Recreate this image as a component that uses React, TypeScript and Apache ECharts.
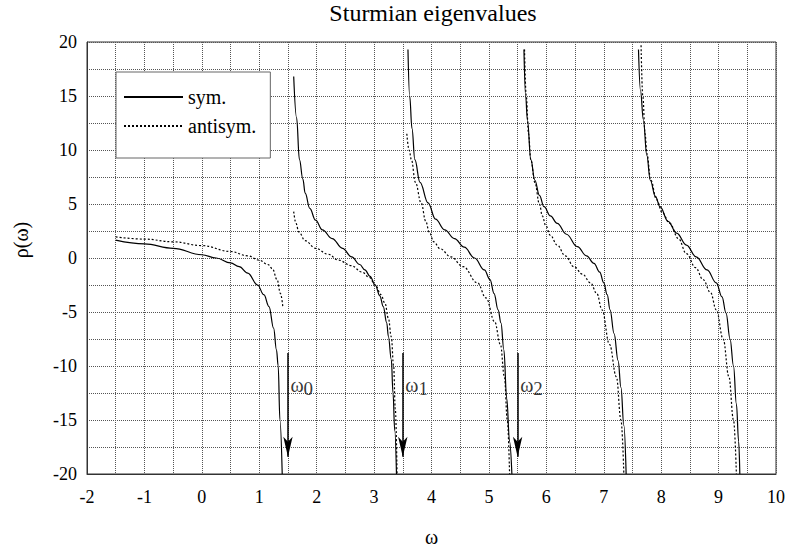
import { useEffect, useRef } from 'react';
import * as echarts from 'echarts';

// Solid curves ("sym.") : [omega, rho] for each branch
const sym0: number[][] = [[-1.5, 1.65], [-1, 1.3], [-0.5, 0.9], [0, 0.3], [0.25, 0.0], [0.5, -0.45], [0.65, -0.8], [0.8, -1.4], [0.97, -2.5], [1.08, -3.4], [1.17, -4.5], [1.25, -6.5], [1.3, -8.5], [1.33, -10], [1.36, -15], [1.4, -20]];
const sym1: number[][] = [[1.6, 16.8], [1.65, 13], [1.7, 9.1], [1.76, 7.3], [1.8, 6.0], [1.88, 4.6], [1.98, 3.5], [2.1, 2.6], [2.27, 1.8], [2.45, 0.9], [2.61, 0.1], [2.75, -0.6], [2.84, -1.1], [2.93, -1.7], [3.02, -2.5], [3.1, -3.5], [3.16, -4.5], [3.22, -6], [3.25, -7.3], [3.3, -9.4], [3.33, -12.5], [3.36, -16], [3.39, -20]];
const sym2: number[][] = [[3.59, 19.3], [3.62, 15], [3.66, 12], [3.71, 9.1], [3.8, 7], [3.94, 5.1], [4.07, 3.6], [4.23, 2.6], [4.4, 1.8], [4.57, 1.0], [4.75, 0], [4.92, -1.1], [5.02, -2.0], [5.09, -3.3], [5.16, -4.8], [5.21, -6], [5.26, -8.5], [5.31, -13], [5.36, -17], [5.4, -20]];
const sym3: number[][] = [[5.61, 19.3], [5.64, 15], [5.67, 12.8], [5.73, 9.1], [5.8, 7.2], [5.88, 5.8], [5.96, 4.75], [6.07, 3.9], [6.19, 3.2], [6.35, 2.2], [6.54, 1.05], [6.7, 0.2], [6.83, -0.5], [6.93, -1.3], [7.0, -2.3], [7.06, -3.4], [7.11, -4.8], [7.18, -7], [7.25, -9.5], [7.3, -12], [7.35, -15.5], [7.39, -20]];
const sym4: number[][] = [[7.605, 19.3], [7.64, 15.5], [7.69, 12.8], [7.75, 9.5], [7.81, 7.2], [7.9, 5.7], [7.98, 4.75], [8.12, 3.4], [8.27, 2.3], [8.44, 1.2], [8.61, 0.1], [8.8, -1.1], [8.96, -2.3], [9.06, -3.6], [9.13, -5.1], [9.2, -7.5], [9.26, -10], [9.31, -13.5], [9.35, -17], [9.37, -20]];

// Dotted curves ("antisym.")
const anti0: number[][] = [[-1.5, 1.95], [-1, 1.75], [-0.5, 1.5], [0, 1.15], [0.5, 0.6], [0.8, 0.2], [1.0, -0.2], [1.15, -0.6], [1.23, -1.0], [1.31, -2.0], [1.37, -3.3], [1.41, -4.5]];
const anti1: number[][] = [[1.6, 4.3], [1.64, 3.2], [1.69, 2.4], [1.8, 1.6], [1.98, 0.9], [2.2, 0.35], [2.38, -0.2], [2.6, -0.7], [2.79, -1.3], [2.92, -1.8], [3.02, -2.5], [3.12, -3.4], [3.19, -4.2], [3.25, -5.6], [3.3, -7.3], [3.34, -10], [3.37, -14], [3.4, -20]];
const anti2: number[][] = [[3.57, 11.5], [3.61, 10], [3.65, 9.1], [3.72, 7.0], [3.82, 5.1], [3.9, 3.4], [3.96, 2.4], [4.04, 1.5], [4.15, 0.85], [4.34, 0.1], [4.55, -0.8], [4.8, -2.3], [4.95, -3.7], [5.1, -5.9], [5.2, -8], [5.27, -11], [5.32, -15], [5.36, -20]];
const anti3: number[][] = [[5.62, 19.3], [5.65, 15], [5.69, 11.5], [5.73, 9.1], [5.8, 7.0], [5.88, 5.0], [5.93, 3.9], [5.99, 3.0], [6.07, 2.1], [6.19, 1.2], [6.33, 0.2], [6.48, -0.8], [6.63, -1.5], [6.77, -2.3], [6.88, -3.3], [6.97, -4.8], [7.1, -8], [7.22, -11], [7.3, -15], [7.35, -20]];
const anti4: number[][] = [[7.65, 19.7], [7.68, 15], [7.72, 11.5], [7.75, 9.7], [7.82, 7.2], [7.92, 5.4], [8.02, 4.2], [8.15, 3.2], [8.3, 1.8], [8.44, 0.4], [8.6, -0.9], [8.73, -2.0], [8.86, -3.2], [8.96, -4.8], [9.08, -7.5], [9.18, -11], [9.26, -15], [9.31, -20]];

const symBranches = [sym0, sym1, sym2, sym3, sym4];
const antiBranches = [anti0, anti1, anti2, anti3, anti4];

// Arrow annotations (omega_n)
const arrowX = [1.5, 3.5, 5.5];
const arrowSubscripts = ['0', '1', '2'];
const arrowStartY = -8.8;
const arrowEndY = -18.4;
const arrowLabelY = -11.8;

export default function App() {
  const ref = useRef<HTMLDivElement>(null);
  useEffect(() => {
    const chart = echarts.init(ref.current!, null, { renderer: 'svg' });
    const serif = 'Liberation Serif, Times New Roman, serif';
    const gridStyle = { color: '#555', width: 1, type: [1, 1] as number[] };

    const mk = (name: string, data: number[][], dotted: boolean) => ({
      type: 'line',
      name,
      data,
      symbol: 'none',
      showSymbol: false,
      smooth: 0.4,
      smoothMonotone: 'x',
      silent: true,
      z: 3,
      lineStyle: { color: '#000', width: 1.2, type: dotted ? [2, 2] : 'solid' },
      itemStyle: { color: '#000' },
      emphasis: { disabled: true },
    });

    const series: any[] = [
      ...symBranches.map((b) => mk('sym.', b, false)),
      ...antiBranches.map((b) => mk('antisym.', b, true)),
      {
        type: 'scatter',
        name: 'annot',
        symbolSize: 1,
        itemStyle: { color: 'rgba(0,0,0,0)' },
        silent: true,
        z: 4,
        data: arrowX.map((x, i) => ({
          value: [x, arrowLabelY],
          label: { formatter: `{w|ω}{s|${arrowSubscripts[i]}}` },
        })),
        label: {
          show: true,
          position: 'right',
          distance: 2,
          color: '#000',
          rich: {
            w: { fontFamily: serif, fontSize: 20, lineHeight: 20, color: '#000', verticalAlign: 'top' },
            s: { fontFamily: serif, fontSize: 19, lineHeight: 20, color: '#000', padding: [6, 0, 0, 0] },
          },
        },
        markLine: {
          silent: true,
          symbol: ['none', 'arrow'],
          symbolSize: [0, 12],
          label: { show: false },
          lineStyle: { color: '#000', width: 1.5, type: 'solid' },
          emphasis: { disabled: true },
          data: arrowX.map((x) => [
            { coord: [x, arrowStartY] },
            { coord: [x, arrowEndY], symbolSize: [7, 20] },
          ]),
        },
      },
    ];

    chart.setOption({
      animation: false,
      backgroundColor: '#fff',
      textStyle: { fontFamily: serif },
      title: {
        text: 'Sturmian eigenvalues',
        left: 433,
        textAlign: 'center',
        top: 1,
        padding: 0,
        textStyle: { fontFamily: serif, fontSize: 24, fontWeight: 'normal', color: '#000' },
      },
      legend: {
        data: ['sym.', 'antisym.'],
        orient: 'vertical',
        left: 116,
        top: 72,
        itemWidth: 59,
        itemHeight: 14,
        itemGap: 9,
        padding: [15, 14, 22, 7],
        backgroundColor: '#fff',
        borderColor: '#666',
        borderWidth: 1,
        selectedMode: false,
        itemStyle: { color: 'rgba(0,0,0,0)', borderWidth: 0, opacity: 0 },
        textStyle: { fontFamily: serif, fontSize: 20, lineHeight: 20, color: '#000' },
        z: 5,
      },
      grid: {
        left: 87,
        top: 42,
        width: 693,
        height: 432,
        show: true,
        borderColor: '#333',
        borderWidth: 1,
        backgroundColor: 'rgba(0,0,0,0)',
      },
      xAxis: {
        type: 'value',
        min: -2,
        max: 10,
        interval: 1,
        axisLine: { show: true, onZero: false, lineStyle: { color: '#333' } },
        axisTick: { show: false },
        axisLabel: { margin: 14, fontSize: 18, color: '#000', fontFamily: serif },
        splitLine: { show: true, lineStyle: gridStyle },
        minorTick: { show: false, splitNumber: 2 },
        minorSplitLine: { show: true, lineStyle: gridStyle },
        name: 'ω',
        nameLocation: 'middle',
        nameGap: 53,
        nameTextStyle: { fontSize: 20, fontFamily: serif, color: '#000' },
      },
      yAxis: {
        type: 'value',
        min: -20,
        max: 20,
        interval: 5,
        axisLine: { show: true, onZero: false, lineStyle: { color: '#333' } },
        axisTick: { show: false },
        axisLabel: { margin: 10, fontSize: 18, color: '#000', fontFamily: serif },
        splitLine: { show: true, lineStyle: gridStyle },
        minorTick: { show: false, splitNumber: 2 },
        minorSplitLine: { show: true, lineStyle: gridStyle },
      },
      graphic: [
        {
          type: 'text',
          x: 21,
          y: 240,
          rotation: Math.PI / 2,
          style: {
            text: 'ρ(ω)',
            fontFamily: serif,
            fontSize: 20,
            fill: '#000',
            textAlign: 'center',
            textVerticalAlign: 'middle',
          },
        },
      ],
      series,
    });
    return () => chart.dispose();
  }, []);
  return <div ref={ref} style={{ position: 'fixed', left: 0, top: 0, width: 788, height: 552 }} />;
}
